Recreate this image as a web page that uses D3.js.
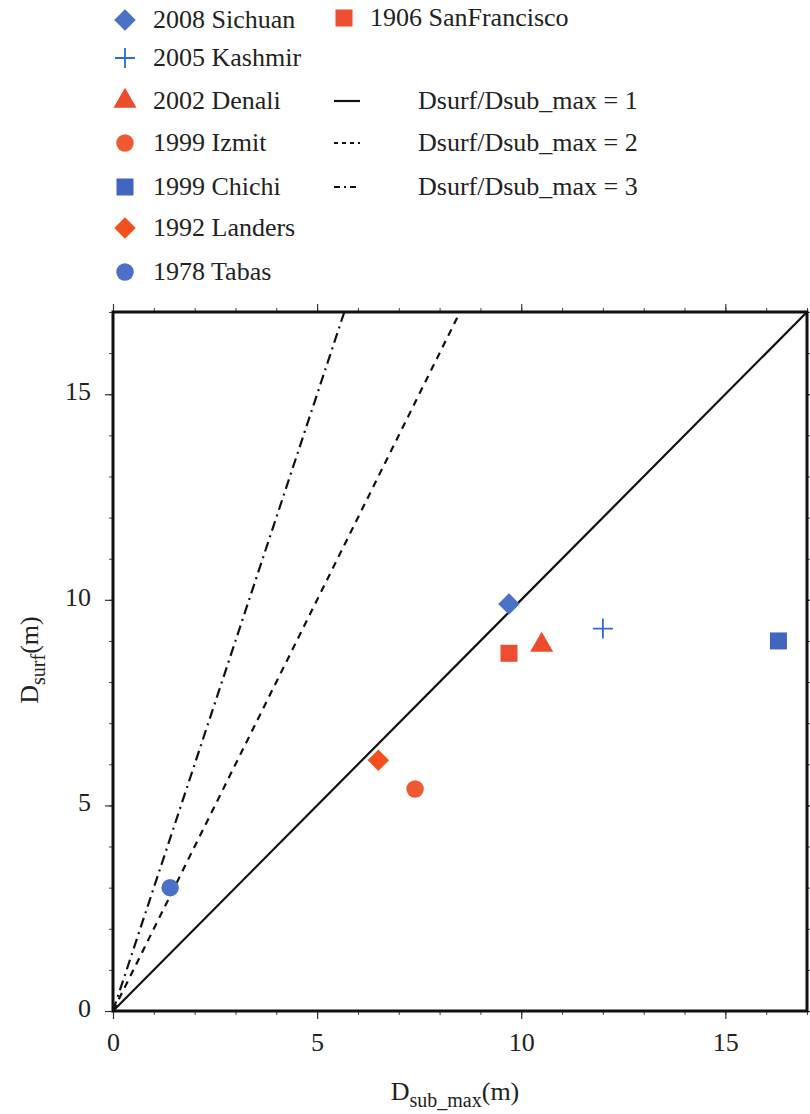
<!DOCTYPE html>
<html>
<head>
<meta charset="utf-8">
<script src="https://cdn.jsdelivr.net/npm/d3@7"></script>
<style>
  body { margin: 0; background: #fff; }
</style>
</head>
<body>
<svg id="chart" width="810" height="1114"></svg>
<script>
// events (Dsub_max, Dsurf in metres)
var eventNames = ['2008 Sichuan', '2005 Kashmir', '2002 Denali', '1999 Izmit', '1999 Chichi', '1992 Landers', '1978 Tabas', '1906 SanFrancisco'];
var dSubMax = [9.7, 12.0, 10.5, 7.4, 16.3, 6.5, 1.4, 9.7];
var dSurf = [9.9, 9.3, 8.9, 5.4, 9.0, 6.1, 3.0, 8.7];
var eventShapes = ['diamond', 'plus', 'triangle', 'circle', 'square', 'diamond', 'circle', 'square'];
var eventColors = ['#4a72c4', '#2f6cd4', '#ee4a2c', '#f05a32', '#4266c0', '#f4501e', '#4a70c8', '#ee4e30'];

// ratio lines Dsurf/Dsub_max
var ratios = [1, 2, 3];
var ratioLabels = ['Dsurf/Dsub_max = 1', 'Dsurf/Dsub_max = 2', 'Dsurf/Dsub_max = 3'];
var ratioDash = [null, '7,6', '10,5,2,5'];

var xTicks = [0, 5, 10, 15];
var yTicks = [0, 5, 10, 15];
var axisMax = 17;

const FONT = '"Liberation Serif", "Times New Roman", Times, "DejaVu Serif", serif';

var svg = d3.select('#chart');
var margin = {left: 113, right: 3, top: 312, bottom: 103};
var width = 810, height = 1114;

var x = d3.scaleLinear().domain([0, axisMax]).range([margin.left, width - margin.right]);
var y = d3.scaleLinear().domain([0, axisMax]).range([height - margin.bottom, margin.top]);

// ticks: minor every 1, major every 5, pointing outward on all four sides
var minor = d3.range(0, axisMax + 1);
function addAxis(axisFn, transform, showLabels) {
	var g = svg.append('g').attr('transform', transform)
		.call(axisFn.tickValues(minor).tickSize(4).tickFormat(''));
	g.select('.domain').remove();
	g.selectAll('line').attr('stroke', '#444').attr('stroke-width', 1);
	var g2 = svg.append('g').attr('transform', transform)
		.call(axisFn.tickValues(xTicks).tickSize(8).tickPadding(14)
			.tickFormat(showLabels ? d3.format('d') : ''));
	g2.select('.domain').remove();
	g2.selectAll('line').attr('stroke', '#333').attr('stroke-width', 1.2);
	g2.attr('font-family', FONT).attr('font-size', 26);
	g2.selectAll('text').attr('fill', '#222');
	return g2;
}
addAxis(d3.axisBottom(x), 'translate(0,' + y(0) + ')', true);
addAxis(d3.axisTop(x), 'translate(0,' + y(axisMax) + ')', false);
var yl = addAxis(d3.axisLeft(y), 'translate(' + x(0) + ',0)', true);
yl.selectAll('text').attr('dy', '0.2em');
addAxis(d3.axisRight(y), 'translate(' + x(axisMax) + ',0)', false);

// frame
svg.append('rect')
	.attr('x', x(0)).attr('y', y(axisMax))
	.attr('width', x(axisMax) - x(0)).attr('height', y(0) - y(axisMax))
	.attr('fill', 'none').attr('stroke', '#111').attr('stroke-width', 3);

// ratio lines
ratios.forEach(function(r, i) {
	var xEnd = Math.min(axisMax, axisMax / r);
	svg.append('line')
		.attr('x1', x(0)).attr('y1', y(0))
		.attr('x2', x(xEnd)).attr('y2', y(xEnd * r))
		.attr('stroke', '#111').attr('stroke-width', 2.2)
		.attr('stroke-dasharray', ratioDash[i]);
});

// marker drawer
function drawMarker(g, shape, color, cx, cy) {
	if (shape == 'plus') {
		g.append('path')
			.attr('d', 'M' + (cx - 10) + ',' + cy + 'H' + (cx + 10) + 'M' + cx + ',' + (cy - 10) + 'V' + (cy + 10))
			.attr('stroke', color).attr('stroke-width', 1.8).attr('fill', 'none');
		return;
	}
	var sym = {
		diamond: d3.symbol().type(d3.symbolSquare).size(230),
		triangle: d3.symbol().type(d3.symbolTriangle).size(230),
		circle: d3.symbol().type(d3.symbolCircle).size(240),
		square: d3.symbol().type(d3.symbolSquare).size(290)
	}[shape];
	g.append('path')
		.attr('d', sym())
		.attr('transform', 'translate(' + cx + ',' + cy + ')' + (shape == 'diamond' ? ' rotate(45)' : ''))
		.attr('fill', color);
}

// data points
var pts = svg.append('g');
eventNames.forEach(function(n, i) {
	drawMarker(pts, eventShapes[i], eventColors[i], x(dSubMax[i]), y(dSurf[i]));
});

// legend
var leg = svg.append('g').attr('font-family', FONT).attr('font-size', 26).attr('fill', '#222');
var legRowsY = [20, 58, 101, 143, 187, 228, 272];
eventNames.forEach(function(n, i) {
	var lx = 125, ly, tx = 153;
	if (i < 7) { ly = legRowsY[i]; }
	else { lx = 344; ly = 18; tx = 370; }
	drawMarker(leg, eventShapes[i], eventColors[i], lx, ly);
	leg.append('text').attr('x', tx).attr('y', ly + 8).text(n);
});
ratioLabels.forEach(function(l, i) {
	var ly = legRowsY[2 + i];
	leg.append('line')
		.attr('x1', 334).attr('x2', 360).attr('y1', ly).attr('y2', ly)
		.attr('stroke', '#111').attr('stroke-width', 2.2)
		.attr('stroke-dasharray', i == 0 ? null : (i == 1 ? '4,4' : '6,4,2,4'));
	leg.append('text').attr('x', 418).attr('y', ly + 8).text(l);
});

// axis titles
var xt = svg.append('text').attr('x', 455).attr('y', 1100).attr('text-anchor', 'middle')
	.attr('font-family', FONT).attr('font-size', 26).attr('fill', '#222');
xt.append('tspan').text('D');
xt.append('tspan').attr('dy', 7).attr('font-size', 20).text('sub_max');
xt.append('tspan').attr('dy', -7).text('(m)');

var yt = svg.append('text').attr('transform', 'translate(38,660) rotate(-90)').attr('text-anchor', 'middle')
	.attr('font-family', FONT).attr('font-size', 26).attr('fill', '#222');
yt.append('tspan').text('D');
yt.append('tspan').attr('dy', 7).attr('font-size', 20).text('surf');
yt.append('tspan').attr('dy', -7).text('(m)');
</script>
</body>
</html>
